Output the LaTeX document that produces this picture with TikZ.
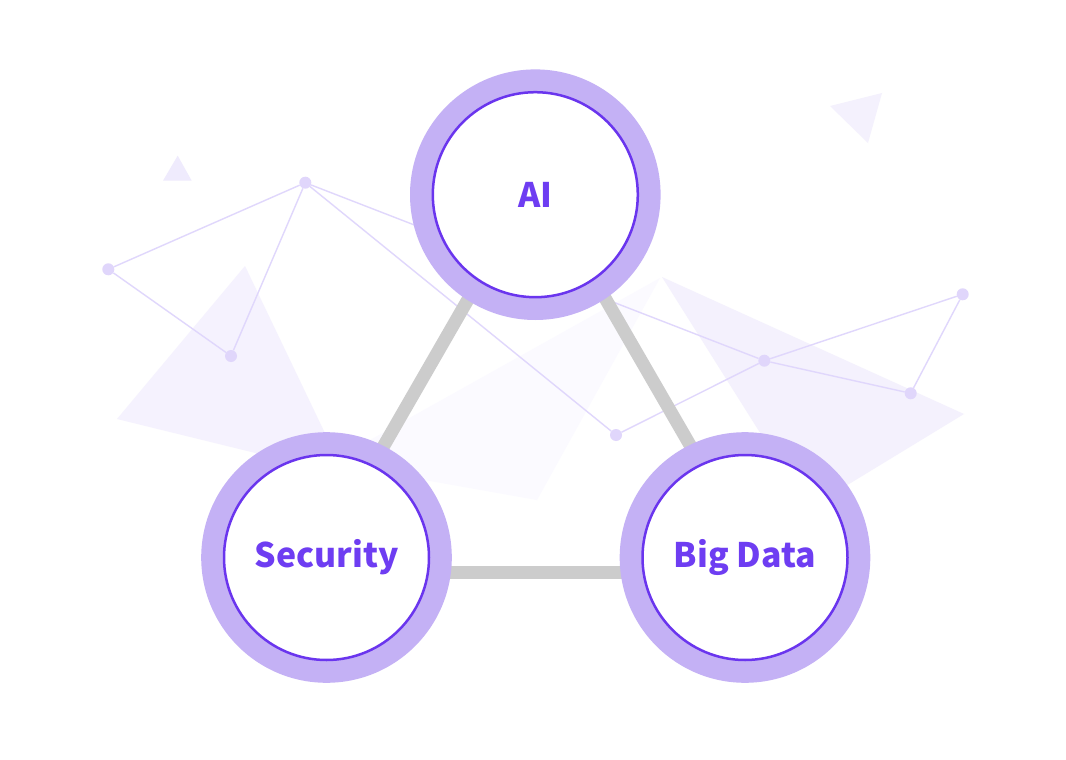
\documentclass[tikz,border=0pt]{standalone}
\usepackage{fontspec}
\newfontfamily\labfont{Noto Sans CJK SC}
\definecolor{ringc}{HTML}{C4B1F5}
\definecolor{edgec}{HTML}{6A35EE}
\definecolor{textc}{HTML}{6E3DF2}
\definecolor{grayl}{HTML}{CCCCCC}
\definecolor{netl}{HTML}{E0D7FC}
\definecolor{netd}{HTML}{E0D6FB}
\definecolor{polyA}{HTML}{F5F2FE}
\definecolor{polyB}{HTML}{FBFAFF}
\definecolor{polyC}{HTML}{F4F1FD}
\definecolor{polyD}{HTML}{EFEBFD}
\tikzset{
  ringnode/.style={circle, fill=ringc, minimum size=250.6pt, inner sep=0pt},
  corenode/.style={circle, fill=white, draw=edgec, line width=2.5pt, minimum size=205pt, inner sep=0pt,
    text=textc, font=\labfont\bfseries\fontsize{33.8}{38}\selectfont},
  link/.style={draw=grayl, line width=13pt},
  netline/.style={draw=netl, line width=1.4pt},
  netdot/.style={circle, fill=netd, minimum size=12pt, inner sep=0pt},
}
\begin{document}
\begin{tikzpicture}[x=1pt,y=-1pt]
\useasboundingbox (0,0) rectangle (1066,760);
\fill[white] (0,0) rectangle (1066,760);
% background polygons
\fill[polyD] (163,180.7) -- (191.7,180.7) -- (177.7,155.7) -- cycle;
\fill[polyC] (830,106) -- (882,93) -- (868,143) -- cycle;
\fill[polyA] (117,419) -- (245,266) -- (345,475) -- cycle;
\fill[polyB] (660,278) -- (537,500) -- (329,463) -- cycle;
\fill[polyC] (662,277) -- (964,414) -- (808,509) -- cycle;
% network
\node[netdot] (na) at (108.3,269.3) {};
\node[netdot] (nb) at (305.3,182.7) {};
\node[netdot] (nc) at (231,356) {};
\node[netdot] (nd) at (616,435) {};
\node[netdot] (ne) at (764.3,360.7) {};
\node[netdot] (nf) at (910.7,393.3) {};
\node[netdot] (ng) at (962.7,294.3) {};
\draw[netline] (na) -- (nb) (na) -- (nc) (nb) -- (nc) (nb) -- (nd) (nb) -- (ne)
  (nd) -- (ne) (ne) -- (nf) (ne) -- (ng) (nf) -- (ng);
% centres
\coordinate (cai) at (535.3,194.7);
\coordinate (csec) at (326.5,557.5);
\coordinate (cbig) at (745,557.5);
% gray links
\draw[link] ([xshift=-7pt]cai) -- ([xshift=-7pt]csec);
\draw[link] ([xshift=10pt]cai) -- ([xshift=10pt]cbig);
\draw[link] ([yshift=-14.5pt]csec) -- ([yshift=-14.5pt]cbig);
% circles
\node[ringnode] (rai) at (cai) {};
\node[ringnode] (rsec) at (csec) {};
\node[ringnode] (rbig) at (cbig) {};
\node[corenode] (ai) at (cai) {AI};
\node[corenode] (sec) at (csec) {Security};
\node[corenode] (big) at (cbig) {Big Data};
\end{tikzpicture}
\end{document}
